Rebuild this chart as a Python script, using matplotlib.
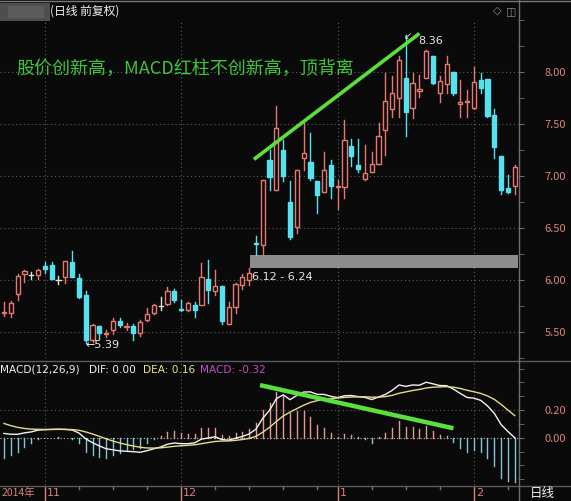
import matplotlib.pyplot as plt
from matplotlib.patches import Rectangle
from matplotlib.lines import Line2D
from matplotlib.ticker import MultipleLocator

W, H = 571, 501
BG = '#0a0a0a'
RED = '#e8786f'
CYAN = '#55e2ee'
AXRED = '#d8847b'
GRID = '#5e5e5e'
FRAME = '#6e6e6e'
GREEN = '#5ae03c'

# daily candles, late Oct 2014 .. early Feb 2015
opens = [5.68, 5.68, 5.87, 6.06, 6.05, 6.05, 6.13, 6.14, 6.00, 6.03,
         6.17, 6.02, 5.86, 5.42, 5.56, 5.48, 5.52, 5.61, 5.55, 5.56,
         5.49, 5.62, 5.68, 5.75, 5.77, 5.89, 5.72, 5.71, 5.76, 5.76,
         6.01, 5.89, 5.94, 5.58, 5.74, 5.95, 6.00, 6.36, 6.34, 7.15,
         6.87, 7.25, 6.75, 6.51, 7.17, 7.13, 6.95, 6.85, 7.11, 6.89,
         6.89, 7.29, 7.11, 6.97, 7.04, 7.12, 7.44, 7.64, 7.75, 7.94,
         7.65, 7.82, 7.94, 8.15, 7.80, 7.88, 8.00, 7.69, 7.71, 7.65,
         7.92, 7.93, 7.59, 7.19, 6.88, 6.90]
closes = [5.69, 5.78, 6.04, 6.09, 6.05, 6.10, 6.11, 6.01, 6.00, 6.18,
          6.03, 5.84, 5.42, 5.57, 5.49, 5.49, 5.61, 5.57, 5.56, 5.49,
          5.60, 5.67, 5.76, 5.75, 5.89, 5.81, 5.71, 5.78, 5.71, 6.03,
          5.90, 5.94, 5.61, 5.74, 5.96, 6.03, 6.07, 6.35, 6.96, 6.99,
          7.46, 7.00, 6.41, 7.06, 7.22, 6.98, 6.82, 7.06, 6.90, 6.90,
          7.35, 7.19, 7.07, 7.03, 7.12, 7.38, 7.72, 7.80, 8.12, 7.62,
          7.89, 7.84, 8.20, 7.89, 7.91, 8.08, 7.80, 7.71, 7.72, 7.90,
          7.85, 7.58, 7.28, 6.87, 6.85, 7.09]
highs = [5.79, 5.80, 6.06, 6.10, 6.08, 6.11, 6.17, 6.17, 6.04, 6.18,
         6.28, 6.06, 5.89, 5.58, 5.56, 5.52, 5.63, 5.63, 5.59, 5.58,
         5.62, 5.73, 5.77, 5.84, 5.93, 5.91, 5.81, 5.79, 5.79, 6.16,
         6.19, 6.10, 5.94, 5.79, 5.97, 6.06, 6.12, 6.42, 6.96, 7.25,
         7.67, 7.35, 6.95, 7.06, 7.51, 7.41, 6.95, 7.23, 7.15, 6.96,
         7.54, 7.36, 7.36, 7.30, 7.23, 7.51, 7.99, 7.96, 8.15, 8.36,
         7.99, 7.97, 8.21, 8.15, 7.96, 8.15, 8.00, 7.92, 7.83, 8.05,
         7.99, 7.93, 7.64, 7.19, 7.01, 7.11]
lows = [5.65, 5.64, 5.81, 5.98, 6.01, 6.01, 6.07, 6.01, 5.96, 5.97,
        6.03, 5.83, 5.39, 5.40, 5.43, 5.45, 5.48, 5.55, 5.52, 5.42,
        5.46, 5.61, 5.67, 5.71, 5.76, 5.79, 5.70, 5.70, 5.64, 5.76,
        5.78, 5.86, 5.58, 5.58, 5.68, 5.91, 5.95, 6.24, 6.25, 6.87,
        6.87, 6.95, 6.39, 6.45, 7.06, 6.96, 6.64, 6.85, 6.79, 6.68,
        6.79, 7.10, 7.04, 6.96, 7.04, 7.12, 7.20, 7.57, 7.57, 7.38,
        7.56, 7.76, 7.94, 7.88, 7.71, 7.80, 7.78, 7.57, 7.57, 7.64,
        7.80, 7.57, 7.17, 6.83, 6.84, 6.83]

dif = [0.031, 0.025, 0.025, 0.035, 0.042, 0.055, 0.058, 0.060, 0.062, 0.060,
       0.056, 0.034, -0.008, -0.036, -0.059, -0.080, -0.087, -0.095, -0.098, -0.101,
       -0.105, -0.094, -0.080, -0.067, -0.047, -0.038, -0.043, -0.043, -0.037, -0.010,
       -0.002, 0.007, -0.014, -0.017, -0.004, 0.009, 0.027, 0.062, 0.140, 0.199,
       0.282, 0.310, 0.275, 0.305, 0.330, 0.331, 0.313, 0.313, 0.299, 0.290,
       0.303, 0.305, 0.297, 0.291, 0.276, 0.294, 0.313, 0.342, 0.381, 0.371,
       0.381, 0.379, 0.401, 0.389, 0.377, 0.376, 0.351, 0.320, 0.291, 0.286,
       0.270, 0.230, 0.176, 0.095, 0.045, 0.000]
dea = [0.103, 0.087, 0.075, 0.067, 0.062, 0.061, 0.060, 0.060, 0.060, 0.060,
       0.059, 0.054, 0.042, 0.027, 0.010, -0.008, -0.024, -0.038, -0.050, -0.060,
       -0.069, -0.074, -0.075, -0.073, -0.068, -0.062, -0.058, -0.055, -0.051, -0.043,
       -0.035, -0.027, -0.024, -0.023, -0.019, -0.013, -0.005, 0.010, 0.040, 0.075,
       0.118, 0.157, 0.185, 0.210, 0.235, 0.255, 0.268, 0.277, 0.283, 0.287,
       0.291, 0.294, 0.295, 0.296, 0.293, 0.293, 0.297, 0.306, 0.321, 0.331,
       0.341, 0.349, 0.359, 0.365, 0.367, 0.369, 0.365, 0.356, 0.343, 0.332,
       0.320, 0.302, 0.277, 0.241, 0.200, 0.160]
macd = [-0.144, -0.125, -0.100, -0.065, -0.040, -0.012, -0.004, 0.0, 0.004, 0.0,
        -0.006, -0.040, -0.100, -0.125, -0.137, -0.144, -0.125, -0.113, -0.096, -0.082,
        -0.072, -0.040, -0.010, 0.012, 0.043, 0.048, 0.031, 0.024, 0.029, 0.067,
        0.067, 0.067, 0.020, 0.012, 0.031, 0.043, 0.063, 0.103, 0.200, 0.248,
        0.327, 0.305, 0.180, 0.190, 0.190, 0.152, 0.090, 0.072, 0.031, 0.006,
        0.024, 0.022, 0.003, -0.010, -0.035, 0.002, 0.031, 0.072, 0.120, 0.079,
        0.079, 0.060, 0.083, 0.048, 0.019, 0.014, -0.029, -0.072, -0.104, -0.092,
        -0.100, -0.144, -0.203, -0.293, -0.310, -0.320]

month_idx = [6, 26, 49, 69]
month_lab = ['11', '12', '1', '2']
price_ticks = [5.5, 6.0, 6.5, 7.0, 7.5, 8.0]
macd_ticks = [0.0, 0.2]
gap_low, gap_high = 6.12, 6.24
low_i, low_p = 12, 5.39
high_i, high_p = 59, 8.36
# hand drawn divergence lines (candle index, value)
trend_price = ([36.7, 61.0], [7.16, 8.37])
trend_macd = ([37.6, 66.0], [0.38, 0.068])

plt.rcParams['font.family'] = ['Noto Sans CJK SC', 'DejaVu Sans']

fig = plt.figure(figsize=(W / 100, H / 100), dpi=100, facecolor=BG)


def box(x0, y0, x1, y1):
    return [x0 / W, 1 - y1 / H, (x1 - x0) / W, (y1 - y0) / H]


def fx(x):
    return x / W


def fy(y):
    return 1 - y / H


ax = fig.add_axes(box(0, 20, 518, 358), facecolor='none')
ax2 = fig.add_axes(box(0, 362, 518, 485), facecolor='none')
xlim = (-0.587, 75.48)

# candles
n = len(opens)
w = 0.62
for i in range(n):
    o, h, l, c = opens[i], highs[i], lows[i], closes[i]
    if c > o:
        col = RED
    elif c < o:
        col = CYAN
    else:
        col = '#e0e0e0'
    ax.plot([i, i], [l, h], color=col, lw=1, zorder=3)
    if c > o:
        ax.add_patch(Rectangle((i - w / 2, o), w, c - o, facecolor=BG,
                               edgecolor=col, lw=1, zorder=4))
    elif c < o:
        ax.add_patch(Rectangle((i - w / 2, c), w, o - c, facecolor=col,
                               edgecolor=col, lw=1, zorder=4))
    else:
        ax.plot([i - w / 2, i + w / 2], [o, o], color=col, lw=1, zorder=4)

ax.add_patch(Rectangle((36.1, gap_low), xlim[1] - 36.1, gap_high - gap_low,
                       facecolor='#8c8c8c', edgecolor='none', zorder=2))
ax.text(36.4, 6.03, '%.2f - %.2f' % (gap_low, gap_high), color='#e8e8e8',
        fontsize=8, ha='left', va='center', family='DejaVu Sans', zorder=5)
ax.text(low_i - 0.1, low_p - 0.015, '\u2190%.2f' % low_p, color='#e8e8e8',
        fontsize=8, ha='left', va='center', family='DejaVu Sans', zorder=5)
ax.text(high_i - 0.3, high_p - 0.02, '\u2199', color='#e8e8e8',
        fontsize=7, ha='left', va='center', family='DejaVu Sans', zorder=5)
ax.text(high_i + 1.9, high_p - 0.06, '%.2f' % high_p, color='#e8e8e8',
        fontsize=8, ha='left', va='center', family='DejaVu Sans', zorder=5)

ax.plot(*trend_price, color=GREEN, lw=2.6, zorder=6, solid_capstyle='butt')

for p in price_ticks:
    ax.axhline(p, color=GRID, lw=0.8, ls=(0, (1, 2.5)), zorder=1)
for m in month_idx:
    ax.axvline(m, color=GRID, lw=0.8, ls=(0, (1, 2.5)), zorder=1)

ax.set_xlim(*xlim)
ax.set_ylim(5.25, 8.5)
ax.yaxis.tick_right()
ax.set_yticks(price_ticks)
ax.set_yticklabels(['%.2f' % p for p in price_ticks])
ax.yaxis.set_minor_locator(MultipleLocator(0.25))
ax.tick_params(axis='y', which='both', length=4, color=FRAME, labelcolor=AXRED,
               labelsize=8, pad=15)
ax.set_xticks([])
for s in ax.spines.values():
    s.set_visible(False)

# MACD panel
for i in range(n):
    v = macd[i]
    ax2.plot([i, i], [0, v], color='#e39a96' if v > 0 else '#80c8d8', lw=1, zorder=2)
ax2.plot(range(n), dif, color='#f2f2f2', lw=1, zorder=3)
ax2.plot(range(n), dea, color='#e4dc8a', lw=1, zorder=3)
ax2.plot(*trend_macd, color=GREEN, lw=3.2, zorder=6, solid_capstyle='butt')

ax2.axhline(0, color='#bdbdbd', lw=0.8, ls=(0, (1, 2)), zorder=1)
ax2.axhline(0.2, color=GRID, lw=0.8, ls=(0, (1, 2.5)), zorder=1)
for m in month_idx:
    ax2.axvline(m, color=GRID, lw=0.8, ls=(0, (1, 2.5)), zorder=1)

ax2.set_xlim(*xlim)
ax2.set_ylim(-0.3415, 0.547)
ax2.yaxis.tick_right()
ax2.set_yticks(macd_ticks)
ax2.set_yticklabels(['%.2f' % v for v in macd_ticks])
ax2.yaxis.set_minor_locator(MultipleLocator(0.1))
ax2.tick_params(axis='y', which='both', length=4, color=FRAME, labelcolor=AXRED,
                labelsize=8, pad=15)
ax2.set_xticks([])
for s in ax2.spines.values():
    s.set_visible(False)

# month axis under MACD panel
tr = ax2.get_xaxis_transform()
for m, lab in zip(month_idx, month_lab):
    ax2.plot([m, m], [-0.01, -0.14], color=AXRED, lw=1, transform=tr, clip_on=False)
    ax2.text(m + 0.3, -0.065, lab, color=AXRED, fontsize=8, ha='left', va='center',
             transform=tr, family='DejaVu Sans')
for k in [11, 16, 21, 31, 36, 41, 46, 54, 59, 64, 74]:
    ax2.plot([k, k], [-0.005, -0.03], color='#777777', lw=1, transform=tr, clip_on=False)
fig.text(fx(2), fy(493), '2014年', color=AXRED, fontsize=7.5, ha='left', va='center')
fig.text(fx(542), fy(493), '日线', color='#f0f0f0', fontsize=9, ha='center', va='center')

# MACD legend line
fig.text(fx(0), fy(370), 'MACD(12,26,9)', color='#f0f0f0', fontsize=7.6,
         ha='left', va='center', family='DejaVu Sans')
fig.text(fx(89), fy(370), 'DIF: %.2f' % dif[-1], color='#f0f0f0', fontsize=7.6,
         ha='left', va='center', family='DejaVu Sans')
fig.text(fx(143), fy(370), 'DEA: %.2f' % dea[-1], color='#e8e090', fontsize=7.6,
         ha='left', va='center', family='DejaVu Sans')
fig.text(fx(200), fy(370), 'MACD: %.2f' % macd[-1], color='#c44cc4', fontsize=7.6,
         ha='left', va='center', family='DejaVu Sans')

# header and frame
fig.add_artist(Rectangle((0, fy(21)), fx(50), fy(3) - fy(21), transform=fig.transFigure,
                         facecolor='#4e4e4e', edgecolor='none'))
fig.add_artist(Rectangle((fx(8), fy(18)), fx(36), fy(6) - fy(18), transform=fig.transFigure,
                         facecolor='#5c5c5c', edgecolor='none'))
fig.text(fx(50), fy(11), '(日线 前复权)', color='#f0f0f0', fontsize=8.5, ha='left', va='center')
fig.text(fx(497), fy(11), '\u25c7', color='#8a8a8a', fontsize=8, ha='center', va='center',
         family='DejaVu Sans')
fig.text(fx(511), fy(11), '\u25eb', color='#8a8a8a', fontsize=8, ha='center', va='center',
         family='DejaVu Sans')
fig.add_artist(Line2D([0, 1], [fy(1), fy(1)], transform=fig.transFigure, color='#7a7a7a', lw=1))
fig.add_artist(Line2D([0, 1], [fy(361), fy(361)], transform=fig.transFigure, color='#5a5a5a', lw=1))
fig.add_artist(Line2D([0, 1], [fy(485.5), fy(485.5)], transform=fig.transFigure, color='#5a5a5a', lw=1))
fig.add_artist(Line2D([fx(518.5), fx(518.5)], [0, 1], transform=fig.transFigure, color=FRAME, lw=1))

fig.text(fx(16), fy(69), '股价创新高，MACD红柱不创新高，顶背离', color='#3fc43c',
         fontsize=13, ha='left', va='center')

fig.savefig('out.png', dpi=100, facecolor=BG)
